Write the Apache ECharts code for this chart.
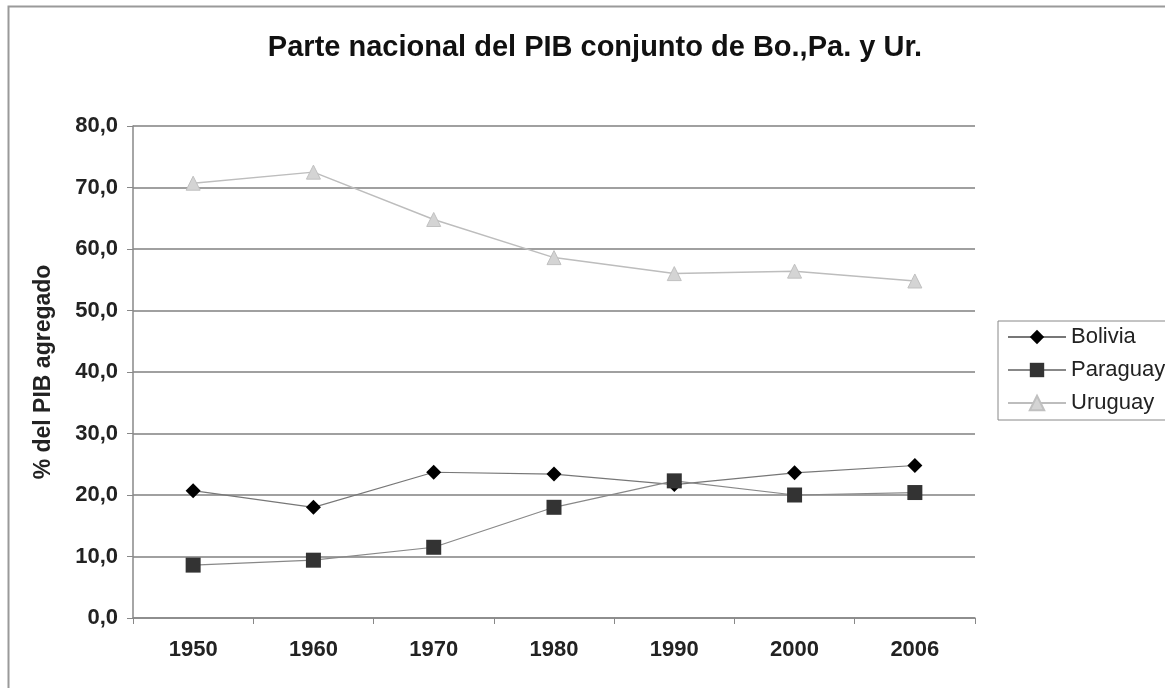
<!DOCTYPE html>
<html>
<head>
<meta charset="utf-8">
<script src="https://cdn.jsdelivr.net/npm/echarts@6/dist/echarts.min.js"></script>
<style>
  html, body { margin: 0; padding: 0; background: #fff; }
  #chart { width: 1165px; height: 688px; }
</style>
</head>
<body>
<div id="chart"></div>
<script>
var years = ["1950", "1960", "1970", "1980", "1990", "2000", "2006"];
var bolivia = [20.7, 18.0, 23.7, 23.4, 21.7, 23.6, 24.8];
var paraguay = [8.6, 9.4, 11.5, 18.0, 22.3, 20.0, 20.4];
var uruguay = [70.7, 72.5, 64.8, 58.6, 56.0, 56.4, 54.8];

var myChart = echarts.init(document.getElementById("chart"));
var fmt = function (v) {
  return v.toFixed(1).replace(".", ",");
};

var option = {
  backgroundColor: "#fff",
  animation: false,
  graphic: [
    {
      type: "rect",
      left: 6,
      top: 4,
      shape: { width: 1200, height: 700 },
      style: { fill: "none", stroke: "#9a9a9a", lineWidth: 2 },
    },
  ],
  title: {
    text: "Parte nacional del PIB conjunto de Bo.,Pa. y Ur.",
    left: 590,
    textAlign: "center",
    top: 28,
    textStyle: {
      fontFamily: "Liberation Sans",
      fontSize: 29,
      fontWeight: "bold",
      color: "#111",
    },
  },
  legend: {
    orient: "vertical",
    left: 998,
    top: 321,
    itemWidth: 58,
    itemHeight: 18,
    itemGap: 11,
    padding: [5, 10, 6, 9],
    borderColor: "#888",
    borderWidth: 1,
    textStyle: {
      fontFamily: "Liberation Sans",
      fontSize: 22,
      color: "#222",
    },
    data: ["Bolivia", "Paraguay", "Uruguay"],
  },
  grid: {
    left: 133,
    right: 190,
    top: 126,
    bottom: 70,
  },
  xAxis: {
    type: "category",
    boundaryGap: true,
    data: years,
    axisLine: { lineStyle: { color: "#888", width: 1.5 } },
    axisTick: { show: true, length: 6, lineStyle: { color: "#888" } },
    axisLabel: {
      margin: 21,
      fontFamily: "Liberation Sans",
      fontSize: 22,
      fontWeight: "bold",
      color: "#222",
    },
  },
  yAxis: {
    type: "value",
    min: 0,
    max: 80,
    interval: 10,
    name: "% del PIB agregado",
    nameLocation: "middle",
    nameGap: 78,
    nameTextStyle: {
      fontFamily: "Liberation Sans",
      fontSize: 23,
      fontWeight: "bold",
      color: "#222",
    },
    axisLine: { show: true, lineStyle: { color: "#888", width: 1.5 } },
    axisTick: { show: true, length: 6, lineStyle: { color: "#888" } },
    splitLine: { lineStyle: { color: "#a0a0a0", width: 2 } },
    axisLabel: {
      margin: 15,
      formatter: fmt,
      fontFamily: "Liberation Sans",
      fontSize: 22,
      fontWeight: "bold",
      color: "#222",
    },
  },
  series: [
    {
      name: "Bolivia",
      type: "line",
      data: bolivia,
      symbol: "diamond",
      symbolSize: 15,
      itemStyle: { color: "#000" },
      lineStyle: { color: "#777", width: 1.2 },
    },
    {
      name: "Paraguay",
      type: "line",
      data: paraguay,
      symbol: "rect",
      symbolSize: 15,
      itemStyle: { color: "#333" },
      lineStyle: { color: "#888", width: 1.2 },
    },
    {
      name: "Uruguay",
      type: "line",
      data: uruguay,
      symbol: "triangle",
      symbolSize: 14,
      itemStyle: { color: "#d4d4d4", borderColor: "#c0c0c0", borderWidth: 1 },
      lineStyle: { color: "#bdbdbd", width: 1.5 },
    },
  ],
};

myChart.setOption(option);
</script>
</body>
</html>
